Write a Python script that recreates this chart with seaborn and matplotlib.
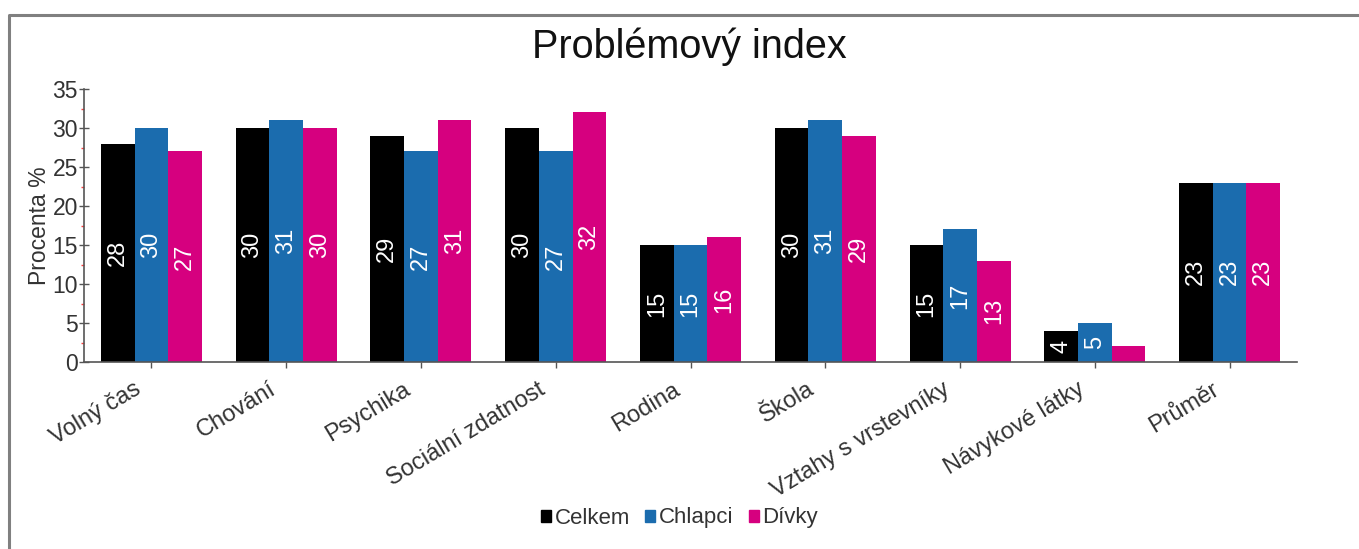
import matplotlib
matplotlib.use("Agg")
import matplotlib.pyplot as plt
from matplotlib.ticker import MultipleLocator
from matplotlib.lines import Line2D
from matplotlib.transforms import ScaledTranslation
import seaborn as sns
import pandas as pd

categories = ["Volný čas", "Chování", "Psychika", "Sociální zdatnost", "Rodina",
              "Škola", "Vztahy s vrstevníky", "Návykové látky", "Průměr"]
celkem = [28, 30, 29, 30, 15, 30, 15, 4, 23]
chlapci = [30, 31, 27, 27, 15, 31, 17, 5, 23]
divky = [27, 30, 31, 32, 16, 29, 13, 2, 23]
series_names = ["Celkem", "Chlapci", "Dívky"]
colors = {"Celkem": "#000000", "Chlapci": "#1B6CAE", "Dívky": "#D6007F"}

rows = []
for name, vals in zip(series_names, [celkem, chlapci, divky]):
    for c, v in zip(categories, vals):
        rows.append({"Kategorie": c, "Skupina": name, "Hodnota": v})
df = pd.DataFrame(rows)

sns.set_style("ticks")
plt.rcParams["font.family"] = ["Liberation Sans", "DejaVu Sans"]
text_col = "#333333"

fig = plt.figure(figsize=(13.59, 5.49), dpi=100)
ax = fig.add_axes([84 / 1359, 1 - 362 / 549, (1297 - 84) / 1359, (362 - 89) / 549])

sns.barplot(data=df, x="Kategorie", y="Hodnota", hue="Skupina", order=categories,
            hue_order=series_names, palette=colors, width=0.75, saturation=1,
            edgecolor="none", linewidth=0, ax=ax)

for cont, vals in zip(ax.containers, [celkem, chlapci, divky]):
    labels = [str(v) if v >= 3 else "" for v in vals]
    ax.bar_label(cont, labels=labels, label_type="center", rotation=90,
                 color="white", fontsize=17)

ax.set_xlim(-0.5, 8.5)
ax.set_ylim(0, 35)
ax.set_yticks(range(0, 36, 5))
ax.yaxis.set_minor_locator(MultipleLocator(2.5))
ax.tick_params(axis="y", which="major", direction="inout", length=7, width=1,
               color="#555555", labelsize=16.5, labelcolor=text_col, pad=1)
ax.tick_params(axis="y", which="minor", direction="out", length=2.5, width=1,
               color="#ff4040")
ax.tick_params(axis="x", which="major", direction="out", length=4, width=1,
               color="#555555", labelsize=17, labelcolor=text_col, pad=2)
ax.set_xticks(range(len(categories)))
ax.set_xticklabels(categories, rotation=31, ha="right", va="top",
                   rotation_mode="anchor")
offset = ScaledTranslation(-18 / 100, -8 / 100, fig.dpi_scale_trans)
for lbl in ax.get_xticklabels():
    lbl.set_transform(lbl.get_transform() + offset)

for s in ["top", "right"]:
    ax.spines[s].set_visible(False)
for s in ["left", "bottom"]:
    ax.spines[s].set_color("#555555")
    ax.spines[s].set_linewidth(1.2)

ax.set_xlabel("")
ax.set_ylabel("Procenta %", fontsize=16.5, color=text_col)
ax.yaxis.set_label_coords(-0.027, 0.5)

ax.legend_.remove()
handles = [plt.Rectangle((0, 0), 1, 1, color=colors[n]) for n in series_names]
fig.legend(handles, series_names, loc="center", bbox_to_anchor=(0.5, 1 - 518 / 549),
           ncol=3, frameon=False, fontsize=16, handlelength=0.45, handleheight=0.45,
           handletextpad=0.15, columnspacing=0.7, labelcolor=text_col)

fig.text(0.5075, 1 - 47 / 549, "Problémový index", ha="center", va="center",
         fontsize=28.5, color="#111111")

border = Line2D([8.5 / 1359, 8.5 / 1359, 1359 / 1359], [-0.05, 1 - 14.5 / 549, 1 - 14.5 / 549],
                transform=fig.transFigure, color="#808080", linewidth=2.2)
fig.add_artist(border)

fig.savefig("out.png", dpi=100, facecolor="white")
